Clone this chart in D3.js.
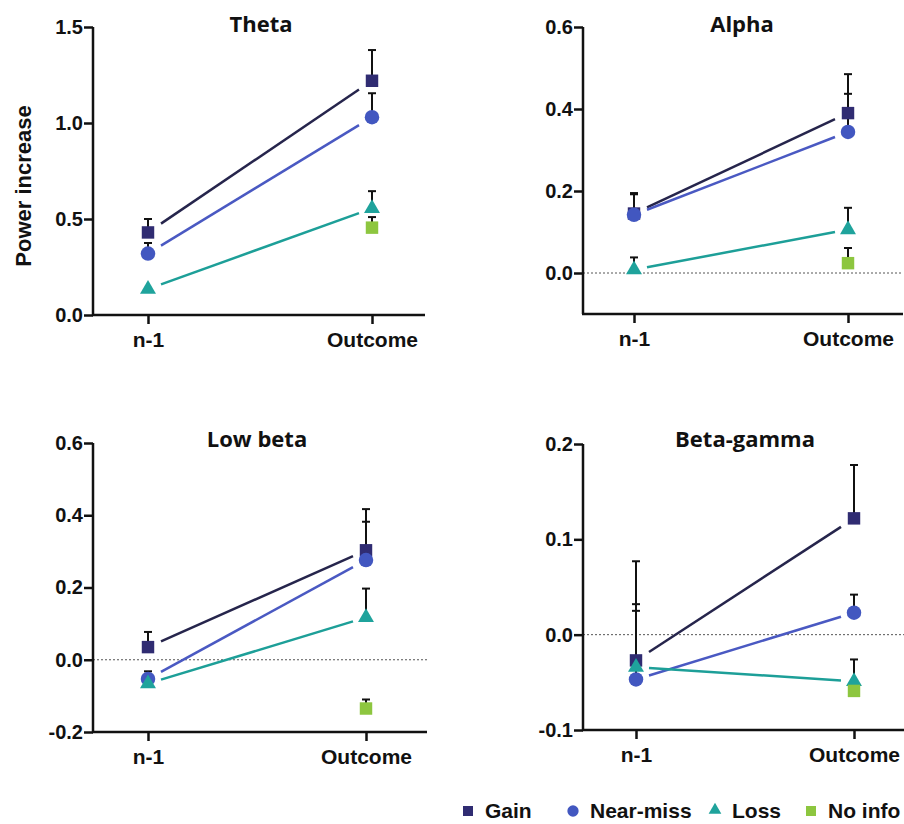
<!DOCTYPE html>
<html>
<head>
<meta charset="utf-8">
<script src="https://cdnjs.cloudflare.com/ajax/libs/d3/7.8.5/d3.min.js"></script>
<style>
  body { margin: 0; background: #fff; }
  text { font-family: "Liberation Sans", Arial, sans-serif; font-weight: bold; fill: #111; }
  .title { font-family: "Open Sans", "Liberation Sans", sans-serif; font-weight: 700; }
</style>
</head>
<body>
<div id="chart"></div>
<script>
// data
var categories = ["n-1", "Outcome"];
var seriesNames = ["Gain", "Near-miss", "Loss", "No info"];
var panelTitles = ["Theta", "Alpha", "Low beta", "Beta-gamma"];

var thetaMean = [[0.43, 1.22], [0.32, 1.03], [0.135, 0.555], [null, 0.455]];
var thetaSem  = [[0.07, 0.16], [0.055, 0.125], [0.005, 0.09], [null, 0.055]];
var alphaMean = [[0.145, 0.39], [0.142, 0.344], [0.008, 0.106], [null, 0.024]];
var alphaSem  = [[0.05, 0.095], [0.05, 0.093], [0.03, 0.053], [null, 0.037]];
var lowBetaMean = [[0.035, 0.303], [-0.053, 0.276], [-0.066, 0.117], [null, -0.135]];
var lowBetaSem  = [[0.042, 0.114], [0.021, 0.106], [0.01, 0.08], [null, 0.025]];
var betaGammaMean = [[-0.027, 0.122], [-0.047, 0.023], [-0.034, -0.049], [null, -0.059]];
var betaGammaSem  = [[0.104, 0.056], [0.079, 0.019], [0.059, 0.023], [null, 0.004]];

var thetaTicks = [0, 0.5, 1.0, 1.5];
var alphaTicks = [0, 0.2, 0.4, 0.6];
var lowBetaTicks = [-0.2, 0, 0.2, 0.4, 0.6];
var betaGammaTicks = [-0.1, 0, 0.1, 0.2];

var markerColors = ["#302c72", "#4257c0", "#1fa39c", "#8dc63f"];
var lineColors = ["#26254c", "#4a59c2", "#1d9f98"];
var shapes = [d3.symbolSquare, d3.symbolCircle, d3.symbolTriangle, d3.symbolSquare];
var sizes = [155, 165, 110, 155];

var panels = [
  {title: panelTitles[0], mean: thetaMean, sem: thetaSem, ticks: thetaTicks, dom: [0, 1.5],
   left: 93, right: 425, top: 27, bottom: 315, x0: 148, x1: 372, tx: 261, ty: 32, zero: false},
  {title: panelTitles[1], mean: alphaMean, sem: alphaSem, ticks: alphaTicks, dom: [-0.1, 0.6],
   left: 583, right: 903, top: 27, bottom: 314, x0: 634, x1: 848, tx: 742, ty: 32, zero: true},
  {title: panelTitles[2], mean: lowBetaMean, sem: lowBetaSem, ticks: lowBetaTicks, dom: [-0.2, 0.6],
   left: 93, right: 427, top: 443, bottom: 732, x0: 148, x1: 366, tx: 257, ty: 447, zero: true},
  {title: panelTitles[3], mean: betaGammaMean, sem: betaGammaSem, ticks: betaGammaTicks, dom: [-0.1, 0.2],
   left: 583, right: 904, top: 444, bottom: 730, x0: 636, x1: 854, tx: 745, ty: 447, zero: true}
];

var fmt = function(d) { return d3.format(".1f")(d).replace("\u2212", "-"); };

var svg = d3.select("#chart").append("svg")
  .attr("width", 904).attr("height", 824);

panels.forEach(function(p) {
  var g = svg.append("g");
  var y = d3.scaleLinear().domain(p.dom).range([p.bottom, p.top]);
  var x = d3.scalePoint().domain(categories).range([p.x0, p.x1]);

  if (p.zero) {
    g.append("line")
      .attr("x1", p.left).attr("x2", p.right)
      .attr("y1", y(0)).attr("y2", y(0))
      .attr("stroke", "#555").attr("stroke-width", 1)
      .attr("stroke-dasharray", "2,2");
  }

  // y axis
  var ya = g.append("g").attr("transform", "translate(" + p.left + ",0)")
    .call(d3.axisLeft(y).tickValues(p.ticks).tickSize(9).tickPadding(1).tickFormat(fmt));
  ya.select(".domain").attr("stroke", "#111").attr("stroke-width", 2.5)
    .attr("d", "M0," + p.top + "V" + p.bottom);
  ya.selectAll(".tick line").attr("stroke", "#111").attr("stroke-width", 2.5);
  ya.selectAll(".tick text").style("font-size", "20px").attr("fill", "#111");

  // x axis
  var xa = g.append("g").attr("transform", "translate(0," + p.bottom + ")")
    .call(d3.axisBottom(x).tickSize(9).tickPadding(8));
  xa.select(".domain").attr("stroke", "#111").attr("stroke-width", 2.5)
    .attr("d", "M" + (p.left - 1) + ",0H" + p.right);
  xa.selectAll(".tick line").attr("stroke", "#111").attr("stroke-width", 2.5);
  xa.selectAll(".tick text").style("font-size", "21px").attr("fill", "#111");

  g.append("text").attr("class", "title")
    .attr("x", p.tx).attr("y", p.ty)
    .attr("text-anchor", "middle").style("font-size", "22px")
    .text(p.title);

  // connecting lines, stopping short of the markers
  var gap = 13;
  p.mean.forEach(function(m, s) {
    if (m[0] == null || m[1] == null) return;
    var xa0 = x(categories[0]), xa1 = x(categories[1]);
    var ya0 = y(m[0]), ya1 = y(m[1]);
    var t0 = gap / (xa1 - xa0), t1 = 1 - t0;
    g.append("line")
      .attr("x1", xa0 + (xa1 - xa0) * t0).attr("y1", ya0 + (ya1 - ya0) * t0)
      .attr("x2", xa0 + (xa1 - xa0) * t1).attr("y2", ya0 + (ya1 - ya0) * t1)
      .attr("stroke", lineColors[s]).attr("stroke-width", 2.5);
  });

  // error bars (upper only)
  p.mean.forEach(function(m, s) {
    m.forEach(function(v, c) {
      if (v == null) return;
      var e = p.sem[s][c];
      var cx = x(categories[c]);
      g.append("line").attr("x1", cx).attr("x2", cx)
        .attr("y1", y(v)).attr("y2", y(v + e))
        .attr("stroke", "#111").attr("stroke-width", 2);
      g.append("line").attr("x1", cx - 4).attr("x2", cx + 4)
        .attr("y1", y(v + e)).attr("y2", y(v + e))
        .attr("stroke", "#111").attr("stroke-width", 2);
    });
  });

  // markers
  p.mean.forEach(function(m, s) {
    m.forEach(function(v, c) {
      if (v == null) return;
      g.append("path")
        .attr("d", d3.symbol().type(shapes[s]).size(sizes[s]))
        .attr("transform", "translate(" + x(categories[c]) + "," + y(v) + ")")
        .attr("fill", markerColors[s]);
    });
  });
});

// y label
svg.append("text")
  .attr("transform", "translate(31,186) rotate(-90)")
  .attr("text-anchor", "middle")
  .style("font-size", "22px")
  .text("Power increase");

// legend
var legendX = [468, 573, 715, 811];
var leg = svg.append("g");
seriesNames.forEach(function(name, s) {
  leg.append("path")
    .attr("d", d3.symbol().type(shapes[s]).size(s == 1 ? 100 : (s == 2 ? 70 : 100)))
    .attr("transform", "translate(" + legendX[s] + "," + (s == 2 ? 810 : 811) + ")")
    .attr("fill", markerColors[s]);
  leg.append("text")
    .attr("x", legendX[s] + 17).attr("y", 818)
    .style("font-size", "21px")
    .text(name);
});
</script>
</body>
</html>
